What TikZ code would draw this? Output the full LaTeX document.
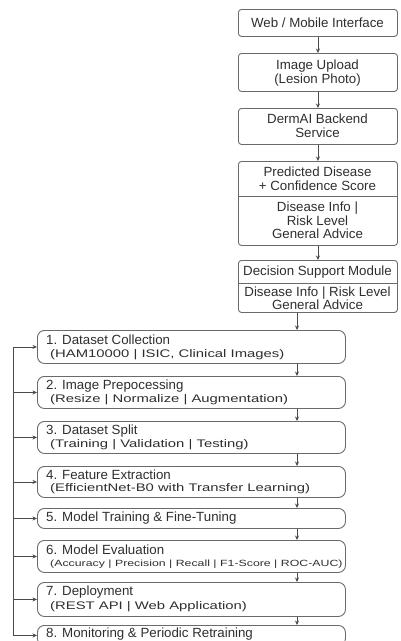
\documentclass[tikz,border=0pt]{standalone}
\usepackage{fontspec}
\setmainfont{Liberation Sans}
\usetikzlibrary{arrows.meta}
\definecolor{lc}{HTML}{6A6A6A}
\definecolor{ac}{HTML}{4A4A4A}
\definecolor{tc}{HTML}{2E2E2E}
\newcommand{\stretchtxt}[1]{\scalebox{1.35}[1]{#1}}
\newcommand{\stretchsmall}[1]{\scalebox{1.37}[1]{#1}}
\begin{document}
\begin{tikzpicture}[x=1pt,y=1pt,
  ubox/.style={draw=lc, line width=0.9pt, rounded corners=3pt, minimum width=159pt, anchor=north west, inner sep=0pt},
  lbox/.style={draw=lc, line width=0.9pt, rounded corners=7pt, minimum width=308pt, anchor=north west, inner sep=0pt},
  utxt/.style={font=\fontsize{13.3}{15}\selectfont, text=tc, inner sep=0pt},
  ttl/.style={font=\fontsize{13.3}{15}\selectfont, text=tc, anchor=west, inner sep=0pt},
  subt/.style={font=\fontsize{11}{13}\selectfont, text=tc, anchor=west, inner sep=0pt},
  arr/.style={draw=ac, line width=0.8pt, -{Stealth[length=4.5pt,width=4pt]}},
  fbline/.style={draw=ac, line width=0.9pt},
  divl/.style={draw=lc, line width=0.9pt}
]
\useasboundingbox (0,0) rectangle (401,-641);
% upper column
\node[ubox, minimum height=27pt] (A) at (238,-9) {};
\node[utxt] (At) at (317.5,-22.5) {Web / Mobile Interface};
\node[ubox, minimum height=38pt] (B) at (238,-53) {};
\node[utxt] (Bt1) at (317.5,-66) {Image Upload};
\node[utxt] (Bt2) at (317.5,-80) {(Lesion Photo)};
\node[ubox, minimum height=36pt] (C) at (238,-108) {};
\node[utxt] (Ct1) at (317.5,-119) {DermAI Backend};
\node[utxt] (Ct2) at (317.5,-133) {Service};
\node[ubox, minimum height=84pt] (D) at (238,-161) {};
\node[utxt] (Dt1) at (317.5,-172) {Predicted Disease};
\node[utxt] (Dt2) at (317.5,-186) {+ Confidence Score};
\coordinate (Dd) at (238,-196);
\draw[divl] (Dd) -- (Dd -| D.east);
\node[utxt] (Dt3) at (317.5,-208) {Disease Info \textbar};
\node[utxt] (Dt4) at (317.5,-221) {Risk Level};
\node[utxt] (Dt5) at (317.5,-234) {General Advice};
\node[ubox, minimum height=52pt] (E) at (238,-260) {};
\node[utxt] (Et1) at (317.5,-272) {Decision Support Module};
\coordinate (Ed) at (238,-283);
\draw[divl] (Ed) -- (Ed -| E.east);
\node[utxt] (Et2) at (317.5,-293) {Disease Info \textbar\ Risk Level};
\node[utxt] (Et3) at (317.5,-305) {General Advice};
\draw[arr] (A.south) -- (B.north);
\draw[arr] (B.south) -- (C.north);
\draw[arr] (C.south) -- (D.north);
\draw[arr] (D.south) -- (E.north);
% lower column
\node[lbox, minimum height=33pt] (L1) at (37,-330) {};
\node[ttl] (L1a) at (46,-340) {1. Dataset Collection};
\node[subt] (L1b) at (50,-355) {\stretchtxt{(HAM10000 \textbar\ ISIC, Clinical Images)}};
\node[lbox, minimum height=32pt] (L2) at (37,-376) {};
\node[ttl] (L2a) at (46,-386) {2. Image Prepocessing};
\node[subt] (L2b) at (50,-400) {\stretchtxt{(Resize \textbar\ Normalize \textbar\ Augmentation)}};
\node[lbox, minimum height=32pt] (L3) at (37,-421) {};
\node[ttl] (L3a) at (46,-431) {3. Dataset Split};
\node[subt] (L3b) at (50,-445) {\stretchtxt{(Training \textbar\ Validation \textbar\ Testing)}};
\node[lbox, minimum height=31pt] (L4) at (37,-466) {};
\node[ttl] (L4a) at (46,-475) {4. Feature Extraction};
\node[subt] (L4b) at (50,-489) {\stretchtxt{(EfficientNet-B0 with Transfer Learning)}};
\node[lbox, minimum height=20pt] (L5) at (37,-508) {};
\node[ttl] (L5a) at (46,-518) {5. Model Training \& Fine-Tuning};
\node[lbox, minimum height=32pt] (L6) at (37,-540) {};
\node[ttl] (L6a) at (46,-550) {6. Model Evaluation};
\node[subt, font=\fontsize{9}{11}\selectfont] (L6b) at (50,-564) {\stretchsmall{(Accuracy \textbar\ Precision \textbar\ Recall \textbar\ F1-Score \textbar\ ROC-AUC)}};
\node[lbox, minimum height=34pt] (L7) at (37,-582) {};
\node[ttl] (L7a) at (46,-592) {7. Deployment};
\node[subt] (L7b) at (50,-607) {\stretchtxt{(REST API \textbar\ Web Application)}};
\node[lbox, minimum height=20pt] (L8) at (37,-625) {};
\node[ttl] (L8a) at (46,-634) {8. Monitoring \& Periodic Retraining};
% arrows in lower column
\coordinate (ax) at (297,0);
\draw[arr] (E.south -| ax) -- (L1.north -| ax);
\draw[arr] (L1.south -| ax) -- (L2.north -| ax);
\draw[arr] (L2.south -| ax) -- (L3.north -| ax);
\draw[arr] (L3.south -| ax) -- (L4.north -| ax);
\draw[arr] (L4.south -| ax) -- (L5.north -| ax);
\draw[arr] (L5.south -| ax) -- (L6.north -| ax);
\draw[arr] (L6.south -| ax) -- (L7.north -| ax);
\draw[arr] (L7.south -| ax) -- (L8.north -| ax);
% feedback line
\coordinate (fb) at (13,0);
\draw[fbline] (L1.west -| fb) -- (L8.west -| fb);
\foreach \i in {1,...,8} {
  \draw[arr] (L\i.west -| fb) -- (L\i.west);
}
\end{tikzpicture}
\end{document}
